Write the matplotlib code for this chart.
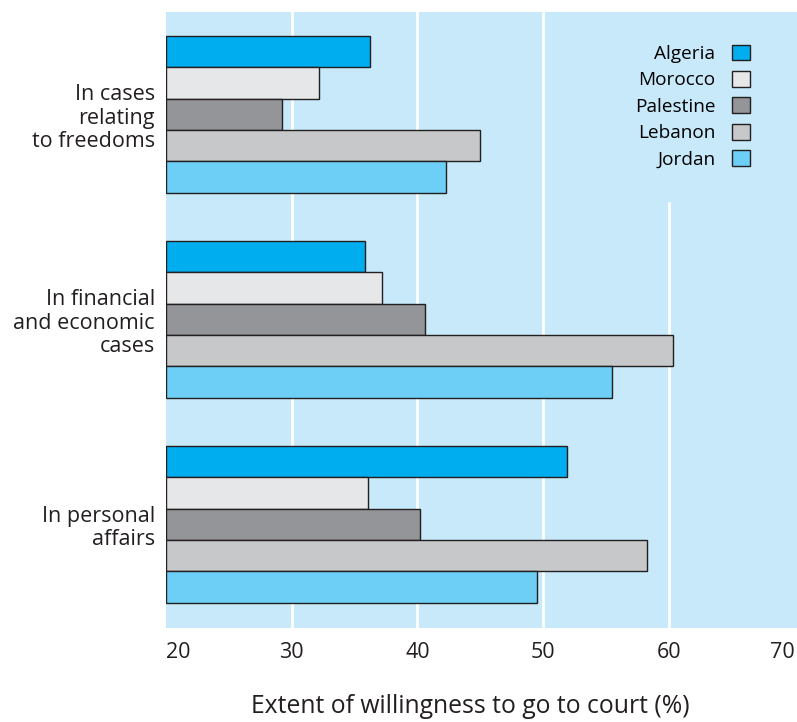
import numpy as np
import matplotlib
matplotlib.use('Agg')
import matplotlib.pyplot as plt
from matplotlib.patches import Patch

plt.rcParams['font.family'] = ['Open Sans', 'DejaVu Sans']

# =====[ Data ]=====
categories = ['In cases\nrelating\nto freedoms',
              'In financial\nand economic\ncases',
              'In personal\naffairs']
countries = ['Algeria', 'Morocco', 'Palestine', 'Lebanon', 'Jordan']
colors = ['#00AEEF', '#E6E7E8', '#939598', '#C7C8CA', '#6DCFF6']
values = {
    'Algeria':   [36.2, 35.8, 51.9],
    'Morocco':   [32.2, 37.2, 36.1],
    'Palestine': [29.2, 40.6, 40.2],
    'Lebanon':   [45.0, 60.3, 58.3],
    'Jordan':    [42.3, 55.5, 49.5],
}
xticks = [20, 30, 40, 50, 60, 70]

# =====[ Layout ]=====
bar_h = 1.0
group_step = 6.53
centers = np.arange(len(categories)) * group_step

fig = plt.figure(figsize=(7.97, 7.22), dpi=100)
ax = fig.add_axes([166/797, 1-628/722, 631/797, 616/722])
ax.set_facecolor('#C7E9F9')

# white gridlines (60 line stops below the legend)
for x in xticks[1:-1]:
    top = 0.69 if x == 60 else 1.0
    ax.axvline(x, ymin=0, ymax=top, color='white', lw=2, zorder=1)

for i, (c, col) in enumerate(zip(countries, colors)):
    y = centers + (i - 2) * bar_h
    ax.barh(y, np.array(values[c]) - 20, left=20, height=bar_h,
            color=col, edgecolor='#231F20', linewidth=1, zorder=2)

ax.set_xlim(20, 70.2)
ax.set_ylim(centers[-1] + 3.3, centers[0] - 3.26)
ax.set_xticks(xticks)
ax.set_xticklabels([str(t) for t in xticks], fontsize=15.5, color='#231F20')
lbls = ax.get_xticklabels()
lbls[0].set_ha('left')
lbls[-1].set_ha('right')
ax.set_yticks(centers)
ax.set_yticklabels(categories, fontsize=15.5, color='#231F20',
                   linespacing=1.15, ha='right')
ax.tick_params(length=0, pad=8)
ax.tick_params(axis='x', pad=10)
for s in ax.spines.values():
    s.set_visible(False)

xl = ax.set_xlabel('Extent of willingness to go to court (%)', fontsize=17.8,
                   color='#231F20')
xl.set_va('baseline')
ax.xaxis.set_label_coords(0.482, -(713 - 628) / 616)

handles = [Patch(facecolor=col, edgecolor='#231F20', linewidth=1) for col in colors]
ax.legend(handles, countries, loc='upper right', bbox_to_anchor=(0.952, 0.975),
          frameon=False, markerfirst=False, fontsize=13.7, handlelength=0.9,
          handleheight=0.9, labelspacing=0.42, handletextpad=0.9)

fig.savefig('out.png', dpi=100)
